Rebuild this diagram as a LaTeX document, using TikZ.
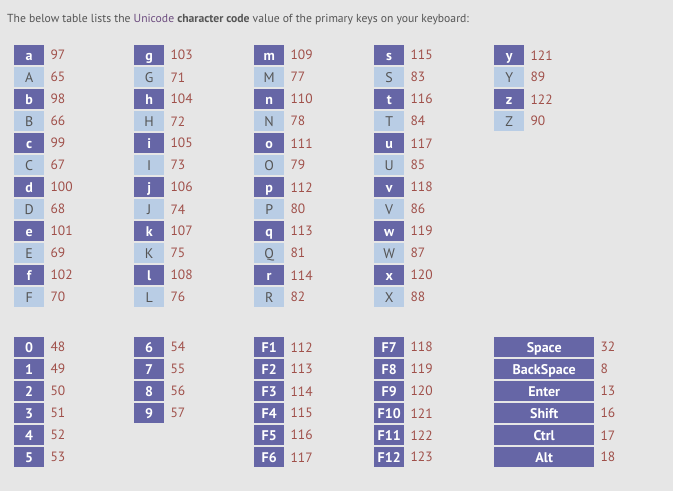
\documentclass[tikz,border=0pt]{standalone}
\usepackage{fontspec}
\setmainfont{PT Sans}
\definecolor{bg}{HTML}{E6E6E6}
\definecolor{keydark}{HTML}{6666A6}
\definecolor{keylight}{HTML}{B9CDE5}
\definecolor{numc}{HTML}{A0504A}
\definecolor{titlec}{HTML}{555555}
\definecolor{linkc}{HTML}{6E4E80}
\definecolor{lighttext}{HTML}{555555}
\newcommand\mykey[6]{%
  \node[#2] (k#1) at (#3,{#4}) {#5};
  \node[numtxt] (v#1) at ([xshift=6pt]k#1.east) {#6};}
\begin{document}
\begin{tikzpicture}[x=1pt,y=-1pt,
  keybase/.style={anchor=north west, inner sep=0pt, minimum width=30pt, minimum height=20pt, text height=10.5pt, text depth=0.5pt},
  keyd/.style={keybase, fill=keydark, text=white, font=\fontsize{14}{14}\selectfont\bfseries},
  keyl/.style={keybase, fill=keylight, text=lighttext, font=\fontsize{14}{14}\selectfont},
  keyw/.style={keyd, minimum width=100pt},
  numtxt/.style={anchor=west, inner sep=0pt, text=numc, font=\fontsize{13.5}{14}\selectfont},
  titletxt/.style={anchor=west, inner sep=0pt, text=titlec, font=\fontsize{11.65}{12}\selectfont}]
\fill[bg] (0,0) rectangle (673,491);
\useasboundingbox (0,0) rectangle (673,491);
\node[titletxt] (title) at (7,20) {The below table lists the {\color{linkc}Unicode} \textbf{character code} value of the primary keys on your keyboard:};
% top block
\foreach [count=\i from 0] \k/\v in {a/97,A/65,b/98,B/66,c/99,C/67,d/100,D/68,e/101,E/69,f/102,F/70}{
  \ifodd\i\def\st{keyl}\else\def\st{keyd}\fi
  \mykey{a\i}{\st}{14}{45+22*\i}{\k}{\v}}
\foreach [count=\i from 0] \k/\v in {g/103,G/71,h/104,H/72,i/105,I/73,j/106,J/74,k/107,K/75,l/108,L/76}{
  \ifodd\i\def\st{keyl}\else\def\st{keyd}\fi
  \mykey{b\i}{\st}{134}{45+22*\i}{\k}{\v}}
\foreach [count=\i from 0] \k/\v in {m/109,M/77,n/110,N/78,o/111,O/79,p/112,P/80,q/113,Q/81,r/114,R/82}{
  \ifodd\i\def\st{keyl}\else\def\st{keyd}\fi
  \mykey{c\i}{\st}{254}{45+22*\i}{\k}{\v}}
\foreach [count=\i from 0] \k/\v in {s/115,S/83,t/116,T/84,u/117,U/85,v/118,V/86,w/119,W/87,x/120,X/88}{
  \ifodd\i\def\st{keyl}\else\def\st{keyd}\fi
  \mykey{d\i}{\st}{374}{45+22*\i}{\k}{\v}}
\foreach [count=\i from 0] \k/\v in {y/121,Y/89,z/122,Z/90}{
  \ifodd\i\def\st{keyl}\else\def\st{keyd}\fi
  \mykey{e\i}{\st}{494}{45+22*\i}{\k}{\v}}
% bottom block
\foreach [count=\i from 0] \k/\v in {0/48,1/49,2/50,3/51,4/52,5/53}{
  \mykey{f\i}{keyd}{14}{337+22*\i}{\k}{\v}}
\foreach [count=\i from 0] \k/\v in {6/54,7/55,8/56,9/57}{
  \mykey{g\i}{keyd}{134}{337+22*\i}{\k}{\v}}
\foreach [count=\i from 0] \k/\v in {F1/112,F2/113,F3/114,F4/115,F5/116,F6/117}{
  \mykey{h\i}{keyd}{254}{337+22*\i}{\k}{\v}}
\foreach [count=\i from 0] \k/\v in {F7/118,F8/119,F9/120,F10/121,F11/122,F12/123}{
  \mykey{m\i}{keyd}{374}{337+22*\i}{\k}{\v}}
\foreach [count=\i from 0] \k/\v in {Space/32,BackSpace/8,Enter/13,Shift/16,Ctrl/17,Alt/18}{
  \mykey{n\i}{keyw}{494}{337+22*\i}{\k}{\v}}
\end{tikzpicture}
\end{document}
